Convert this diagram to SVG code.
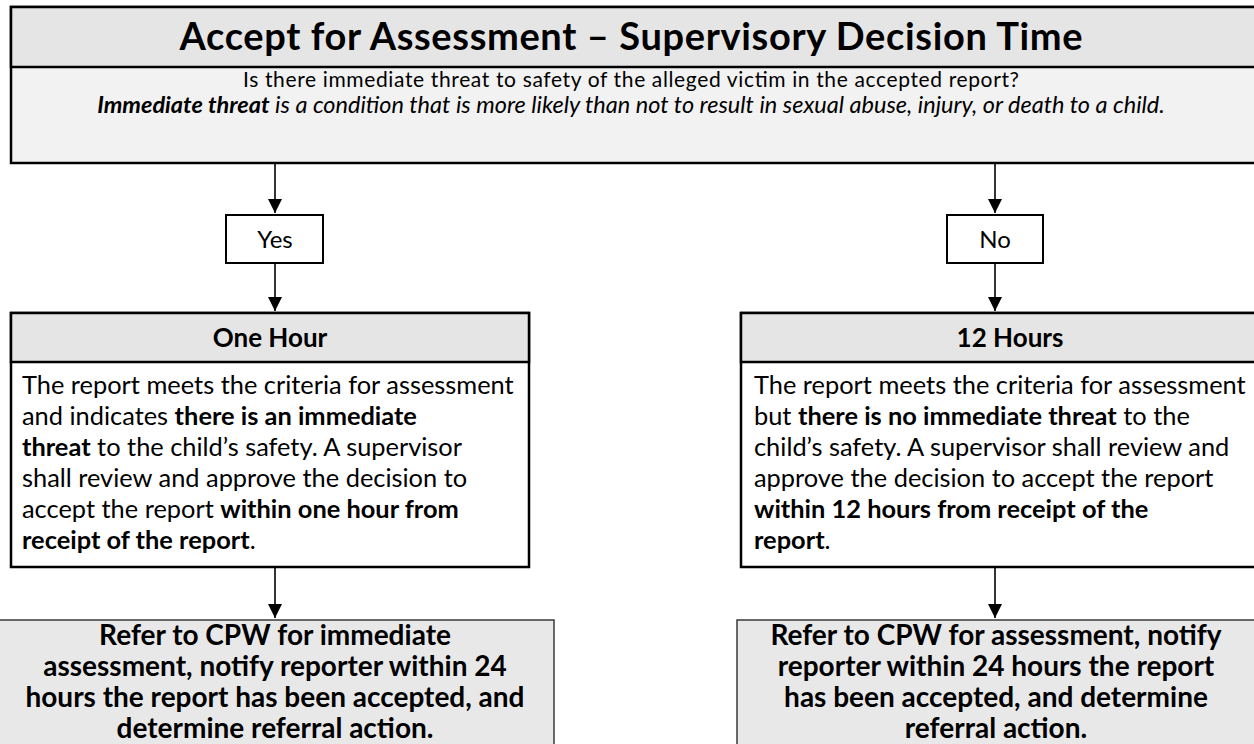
<svg xmlns="http://www.w3.org/2000/svg" width="1254" height="744" viewBox="0 0 1254 744">
<style>
text{font-family:Lato,"Liberation Sans",sans-serif;fill:#000}
.box{stroke:#000;stroke-width:2.5}
.hdr{fill:#e5e5e5}
.light{fill:#f2f2f2}
.white{fill:#fff}
.grey{fill:#e8e8e8;stroke:#3a3a3a;stroke-width:1.5}
.title{font-size:38px;font-weight:700}
.q{font-size:21px}
.it{font-size:23.5px;font-style:italic}
.lbl{font-size:24px}
.h{font-size:26px;font-weight:700}
.body{font-size:25.4px}
.b{font-weight:700}
.res{font-size:28px;font-weight:700}
.conn{stroke:#000;stroke-width:1.6;fill:none}
</style>
<defs>
<marker id="ah" viewBox="0 0 14 14" refX="14" refY="7" markerWidth="14" markerHeight="14" markerUnits="userSpaceOnUse" orient="auto">
<path d="M0,0 L14,7 L0,14 Z" fill="#000"/>
</marker>
</defs>
<g id="top">
<rect class="light box" x="11" y="7" width="1260" height="156"/>
<rect class="hdr box" x="11" y="7" width="1260" height="60"/>
<text class="title" x="631" y="50" text-anchor="middle" textLength="903" lengthAdjust="spacing">Accept for Assessment – Supervisory Decision Time</text>
<text class="q" x="631" y="87" text-anchor="middle" textLength="776" lengthAdjust="spacing">Is there immediate threat to safety of the alleged victim in the accepted report?</text>
<text class="it" x="631" y="113" text-anchor="middle"><tspan class="b">Immediate threat</tspan> is a condition that is more likely than not to result in sexual abuse, injury, or death to a child.</text>
</g>
<g id="yes">
<rect class="white box" x="226" y="215" width="97" height="48" style="stroke-width:2"/>
<text class="lbl" x="275" y="248" text-anchor="middle">Yes</text>
</g>
<g id="no">
<rect class="white box" x="947" y="215" width="96" height="48" style="stroke-width:2"/>
<text class="lbl" x="995" y="248" text-anchor="middle">No</text>
</g>
<g id="onehour">
<rect class="white box" x="11" y="313" width="518" height="254"/>
<rect class="hdr box" x="11" y="313" width="518" height="49"/>
<text class="h" x="270" y="347" text-anchor="middle">One Hour</text>
<text class="body"><tspan x="22" y="394">The report meets the criteria for assessment</tspan><tspan x="22" y="425">and indicates <tspan class="b">there is an immediate</tspan></tspan><tspan x="22" y="456"><tspan class="b">threat</tspan> to the child’s safety. A supervisor</tspan><tspan x="22" y="487">shall review and approve the decision to</tspan><tspan x="22" y="518">accept the report <tspan class="b">within one hour from</tspan></tspan><tspan x="22" y="549"><tspan class="b">receipt of the report</tspan>.</tspan></text>
</g>
<g id="twelve">
<rect class="white box" x="741" y="313" width="540" height="254"/>
<rect class="hdr box" x="741" y="313" width="540" height="49"/>
<text class="h" x="1010" y="347" text-anchor="middle">12 Hours</text>
<text class="body"><tspan x="754" y="394">The report meets the criteria for assessment</tspan><tspan x="754" y="425">but <tspan class="b">there is no immediate threat</tspan> to the</tspan><tspan x="754" y="456">child’s safety. A supervisor shall review and</tspan><tspan x="754" y="487">approve the decision to accept the report</tspan><tspan x="754" y="518" class="b">within 12 hours from receipt of the</tspan><tspan x="754" y="549"><tspan class="b">report</tspan>.</tspan></text>
</g>
<g id="refer1">
<rect class="grey" x="-5" y="620" width="559" height="140"/>
<text class="res" text-anchor="middle"><tspan x="275" y="645">Refer to CPW for immediate</tspan><tspan x="275" y="676">assessment, notify reporter within 24</tspan><tspan x="275" y="707">hours the report has been accepted, and</tspan><tspan x="275" y="738">determine referral action.</tspan></text>
</g>
<g id="refer2">
<rect class="grey" x="737" y="620" width="540" height="140"/>
<text class="res" text-anchor="middle"><tspan x="996" y="645">Refer to CPW for assessment, notify</tspan><tspan x="996" y="676">reporter within 24 hours the report</tspan><tspan x="996" y="707">has been accepted, and determine</tspan><tspan x="996" y="738">referral action.</tspan></text>
</g>
<g id="connectors">
<line class="conn" x1="275" y1="164" x2="275" y2="213" marker-end="url(#ah)"/>
<line class="conn" x1="995" y1="164" x2="995" y2="213" marker-end="url(#ah)"/>
<line class="conn" x1="275" y1="264" x2="275" y2="311" marker-end="url(#ah)"/>
<line class="conn" x1="995" y1="264" x2="995" y2="311" marker-end="url(#ah)"/>
<line class="conn" x1="275" y1="568" x2="275" y2="618" marker-end="url(#ah)"/>
<line class="conn" x1="995" y1="568" x2="995" y2="618" marker-end="url(#ah)"/>
</g>
</svg>
